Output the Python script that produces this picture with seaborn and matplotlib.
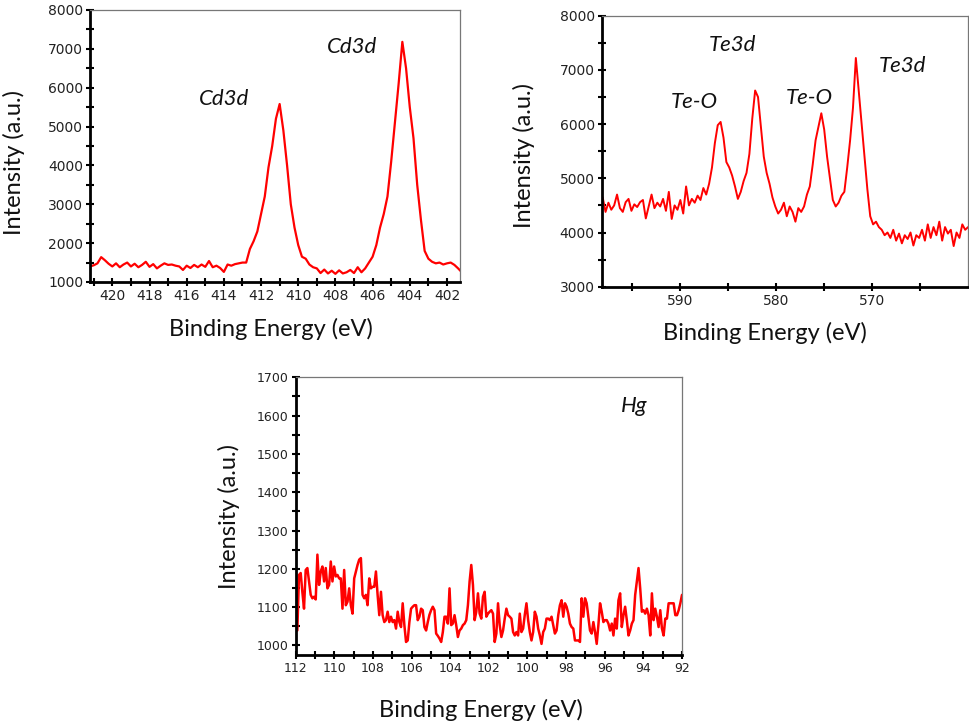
import numpy as np
import matplotlib
matplotlib.use("Agg")
import matplotlib.pyplot as plt
import seaborn as sns
from matplotlib.ticker import MultipleLocator, FixedLocator

sns.set_style("ticks")
plt.rcParams['font.family'] = ['DejaVu Sans']

# ---------------- data ----------------
# Cd3d spectrum, 421.2 -> 401.2 eV
cd_range = (421.2, 401.2)
cd_intensity = [
    1400, 1430, 1480, 1640, 1560, 1470, 1400, 1480, 1380, 1450,
    1500, 1400, 1470, 1380, 1440, 1520, 1390, 1460, 1350, 1420,
    1480, 1440, 1450, 1420, 1400, 1310, 1420, 1360, 1440, 1380,
    1450, 1390, 1540, 1380, 1420, 1360, 1260, 1450, 1420, 1460,
    1480, 1500, 1500, 1850, 2050, 2300, 2750, 3200, 3950, 4500,
    5200, 5580, 4900, 4000, 3000, 2400, 1950, 1650, 1600, 1450,
    1380, 1350, 1230, 1320, 1220, 1290, 1210, 1300, 1220, 1250,
    1310, 1230, 1380, 1250, 1350, 1500, 1650, 1950, 2400, 2750,
    3200, 4100, 5100, 6100, 7180, 6500, 5500, 4700, 3500, 2600,
    1800, 1600, 1520, 1480, 1500, 1450, 1480, 1500, 1440, 1350,
    1250,
]

# Te3d spectrum, 598.1 -> 560.0 eV
te_range = (598.1, 560.0)
te_intensity = [
    4650, 4380, 4550, 4420, 4500, 4700, 4450, 4380, 4560, 4620,
    4400, 4520, 4470, 4560, 4600, 4260, 4480, 4700, 4450, 4550,
    4480, 4620, 4400, 4750, 4250, 4500, 4420, 4600, 4350, 4850,
    4500, 4620, 4550, 4680, 4600, 4820, 4700, 4900, 5200, 5650,
    5980, 6040, 5750, 5300, 5200, 5050, 4850, 4620, 4750, 4950,
    5100, 5450, 6100, 6620, 6500, 5950, 5400, 5100, 4900, 4650,
    4480, 4350, 4420, 4550, 4300, 4480, 4380, 4200, 4450, 4380,
    4480, 4700, 4850, 5250, 5700, 5950, 6200, 5900, 5400, 5000,
    4600, 4480, 4550, 4680, 4750, 5200, 5700, 6300, 7220, 6600,
    6000, 5400, 4800, 4300, 4150, 4200, 4100, 4050, 3950, 4000,
    3900, 4050, 3850, 3980, 3800, 3950, 3880, 4000, 3760, 3950,
    3900, 4050, 3850, 4150, 3900, 4100, 3950, 4200, 3850, 4100,
    3980, 4050, 3750, 4000, 3900, 4150, 4050, 4100,
]

# Hg spectrum, 112 -> 92 eV
hg_range = (112.0, 92.0)
hg_intensity = [
    1149, 1039, 1184, 1189, 1140, 1096, 1197, 1202, 1167, 1132,
    1123, 1127, 1120, 1237, 1158, 1193, 1206, 1167, 1202, 1149,
    1158, 1219, 1167, 1206, 1180, 1184, 1175, 1175, 1096, 1197,
    1105, 1114, 1149, 1105, 1083, 1175, 1193, 1210, 1224, 1228,
    1132, 1123, 1132, 1105, 1175, 1149, 1153, 1153, 1193, 1132,
    1079, 1140, 1079, 1061, 1066, 1088, 1061, 1075, 1061, 1066,
    1044, 1088, 1061, 1048, 1110, 1053, 1009, 1013, 1061, 1096,
    1101, 1105, 1105, 1066, 1075, 1096, 1092, 1048, 1039,
    1061, 1080, 1092, 1101, 1092, 1031, 1025, 1018, 1009, 1035,
    1075, 1075, 1057, 1149, 1053, 1057, 1079, 1053, 1022, 1039,
    1044, 1053, 1057, 1066, 1105, 1167, 1210, 1158, 1066, 1088,
    1136, 1083, 1070, 1127, 1140, 1075, 1083, 1088, 1092, 1083,
    1009, 1031, 1110, 1053, 1022, 1039, 1070, 1096, 1079, 1075,
    1070, 1035, 1026, 1035, 1026, 1083, 1035, 1044, 1080, 1110,
    1066, 1035, 1013, 1035, 1088, 1075, 1044, 1026, 1004, 1035,
    1044, 1070, 1070, 1066, 1075, 1053,
    1031, 1039, 1079, 1105, 1118, 1075, 1110, 1101, 1083, 1057,
    1048, 1044, 1013, 1013, 1013, 1009, 1123, 1075, 1123, 1110,
    1075, 1039, 1031, 1061, 1035, 1004, 1053, 1110, 1088, 1061,
    1066, 1066, 1057, 1039, 1057, 1026, 1070, 1044, 1118, 1136,
    1048, 1079, 1101, 1066, 1026, 1039, 1057, 1066, 1132, 1167,
    1202, 1149, 1088, 1092, 1083, 1096, 1079, 1026, 1136, 1066,
    1096, 1075, 1048, 1092, 1044, 1026, 1070, 1070, 1110, 1110,
    1110, 1110, 1079, 1079, 1092, 1110, 1132,
]

cd_energy = np.linspace(cd_range[0], cd_range[1], len(cd_intensity))
te_energy = np.linspace(te_range[0], te_range[1], len(te_intensity))
hg_energy = np.linspace(hg_range[0], hg_range[1], len(hg_intensity))

cd_labels = [("Cd3d", 414.0, 5710), ("Cd3d", 407.1, 7050)]
te_labels = [("Te3d", 584.6, 7460), ("Te-O", 588.5, 6410),
             ("Te-O", 576.6, 6480), ("Te3d", 566.8, 7070)]
hg_labels = [("Hg", 94.5, 1625)]

te_major_ticks = [590, 580, 570]
te_minor_ticks = [595, 585, 575, 565]

XLABEL = "Binding Energy (eV)"
YLABEL = "Intensity (a.u.)"
LINE_COLOR = "#ff0000"
LABEL_FONT = "Lato"

# ---------------- figure ----------------
fig = plt.figure(figsize=(9.7, 7.24), dpi=100)
ax1 = fig.add_axes([0.0928, 0.6105, 0.3814, 0.3757])
ax2 = fig.add_axes([0.6203, 0.6040, 0.3777, 0.3743])
ax3 = fig.add_axes([0.3048, 0.0953, 0.3983, 0.3836])

sns.lineplot(x=cd_energy, y=cd_intensity, ax=ax1, color=LINE_COLOR, linewidth=1.6)
sns.lineplot(x=te_energy, y=te_intensity, ax=ax2, color=LINE_COLOR, linewidth=1.4)
sns.lineplot(x=hg_energy, y=hg_intensity, ax=ax3, color=LINE_COLOR, linewidth=1.8)


def style(ax, xlim, ylim, xmaj, xmin, ymaj, ymin, tsize, xlab_xy, ylab_xy, labels, fsize=17):
    ax.set_xlim(*xlim)
    ax.set_ylim(*ylim)
    if isinstance(xmaj, list):
        ax.xaxis.set_major_locator(FixedLocator(xmaj))
        ax.xaxis.set_minor_locator(FixedLocator(xmin))
    else:
        ax.xaxis.set_major_locator(MultipleLocator(xmaj))
        ax.xaxis.set_minor_locator(MultipleLocator(xmin))
    ax.yaxis.set_major_locator(MultipleLocator(ymaj))
    ax.yaxis.set_minor_locator(MultipleLocator(ymin))
    for s in ("left", "bottom"):
        ax.spines[s].set_linewidth(2.0)
        ax.spines[s].set_color("black")
    for s in ("top", "right"):
        ax.spines[s].set_visible(True)
        ax.spines[s].set_linewidth(0.9)
        ax.spines[s].set_color("#777777")
    ax.tick_params(which="both", direction="inout", length=6, width=1.5,
                   top=False, right=False, labelsize=tsize, pad=2,
                   colors="black", labelcolor="#222222")
    ax.set_xlabel(XLABEL, fontsize=fsize, family=LABEL_FONT, color="#111111")
    ax.set_ylabel(YLABEL, fontsize=fsize, family=LABEL_FONT, color="#111111")
    ax.xaxis.set_label_coords(*xlab_xy)
    ax.yaxis.set_label_coords(*ylab_xy)
    ax.xaxis.label.set_verticalalignment("center")
    ax.yaxis.label.set_verticalalignment("center")
    for txt, x, y in labels:
        ax.text(x, y, txt, fontsize=16, style="italic", family=LABEL_FONT,
                ha="center", va="center", color="#111111")


style(ax1, (421.2, 401.3), (1000, 8000), 2, 1, 1000, 500, 10,
      (0.49, -0.173), (-0.205, 0.441), cd_labels)
style(ax2, (598.2, 560.0), (3000, 8000), te_major_ticks, te_minor_ticks, 1000, 500, 10,
      (0.446, -0.171), (-0.212, 0.486), te_labels)
style(ax3, (112, 92), (975, 1700), 2, 1, 100, 50, 9,
      (0.48, -0.198), (-0.173, 0.50), hg_labels)

fig.savefig("out.png", dpi=100, facecolor="white")
